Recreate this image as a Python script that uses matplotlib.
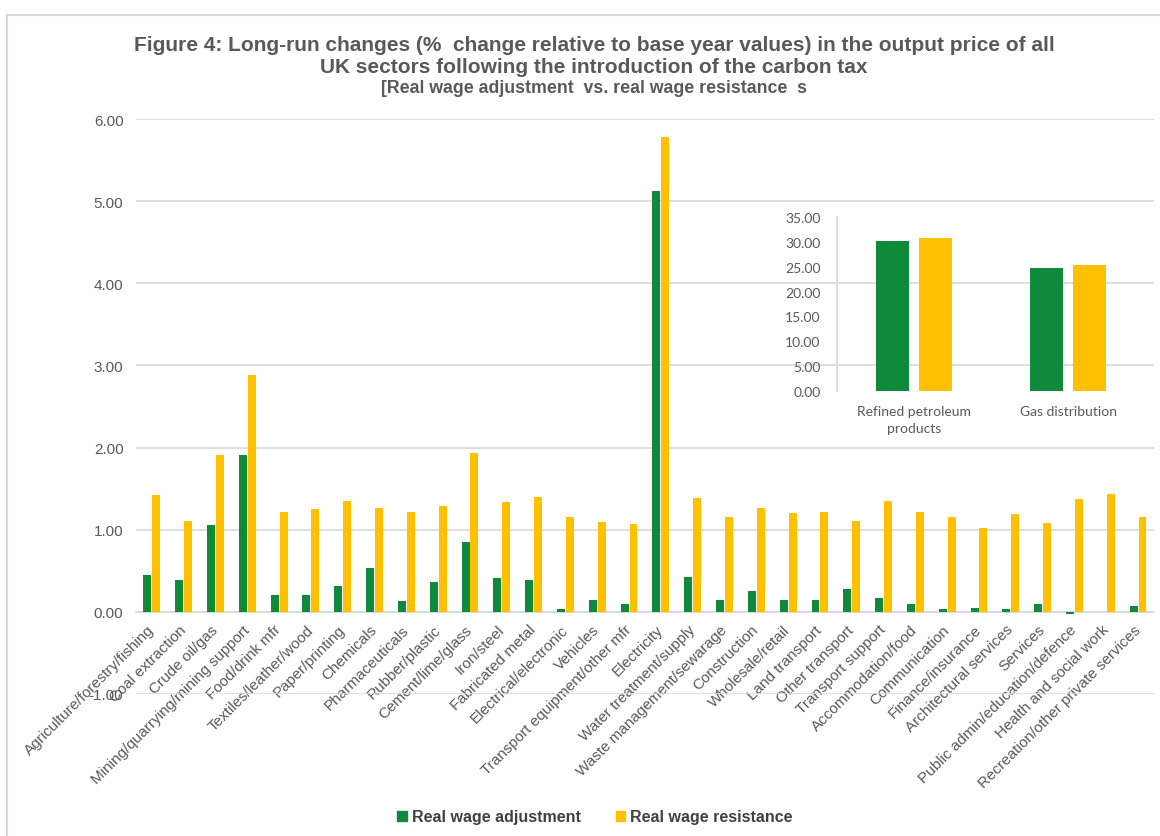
import matplotlib
matplotlib.use("Agg")
import matplotlib.pyplot as plt
from matplotlib.patches import Patch
from matplotlib.lines import Line2D
import numpy as np

sectors = [
    "Agriculture/forestry/fishing", "Coal extraction", "Crude oil/gas",
    "Mining/quarrying/mining support", "Food/drink mfr", "Textiles/leather/wood",
    "Paper/printing", "Chemicals", "Pharmaceuticals", "Rubber/plastic",
    "Cement/lime/glass", "Iron/steel", "Fabricated metal", "Electrical/electronic",
    "Vehicles", "Transport equipment/other mfr", "Electricity",
    "Water treatment/supply", "Waste management/sewarage", "Construction",
    "Wholesale/retail", "Land transport", "Other transport", "Transport support",
    "Accommodation/food", "Communication", "Finance/insurance",
    "Architectural services", "Services", "Public admin/education/defence",
    "Health and social work", "Recreation/other private services",
]
adjustment = [0.45, 0.39, 1.06, 1.91, 0.21, 0.20, 0.32, 0.53, 0.13, 0.36,
              0.85, 0.41, 0.39, 0.03, 0.14, 0.10, 5.12,
              0.43, 0.15, 0.25, 0.15, 0.14, 0.28, 0.17, 0.10, 0.04, 0.05,
              0.04, 0.10, -0.03, 0.00, 0.07]
resistance = [1.42, 1.11, 1.91, 2.88, 1.21, 1.25, 1.35, 1.27, 1.21, 1.29,
              1.93, 1.34, 1.40, 1.15, 1.09, 1.07, 5.78,
              1.38, 1.15, 1.27, 1.20, 1.22, 1.11, 1.35, 1.21, 1.15, 1.02,
              1.19, 1.08, 1.37, 1.43, 1.15]

inset_sectors = ["Refined petroleum\nproducts", "Gas distribution"]
inset_adjustment = [30.1, 24.7]
inset_resistance = [30.8, 25.3]

series_names = ["Real wage adjustment", "Real wage resistance"]
green = "#0E8A3A"
gold = "#FFC000"
grid_col = "#D9D9D9"
text_col = "#595959"

plt.rcParams["axes.unicode_minus"] = False

fig = plt.figure(figsize=(11.6, 8.37), dpi=100)

# main chart
ax = fig.add_axes([0.1172, 0.1697, 0.8776, 0.6869])
x = np.arange(len(sectors))
ax.bar(x - 0.14, adjustment, width=0.25, color=green, zorder=3)
ax.bar(x + 0.14, resistance, width=0.25, color=gold, zorder=3)
ax.set_xlim(-0.5, len(sectors) - 0.5)
ax.set_ylim(-1, 6)
ax.set_yticks(np.arange(-1, 7, 1))
ax.set_yticklabels([f"{v:.2f}" for v in np.arange(-1, 7, 1)])
ax.yaxis.grid(True, color=grid_col, linewidth=1.2, zorder=0)
for side in ["top", "right", "left"]:
    ax.spines[side].set_visible(False)
ax.spines["bottom"].set_position(("data", 0))
ax.spines["bottom"].set_color(grid_col)
ax.spines["bottom"].set_linewidth(1.2)
ax.set_xticks(x)
ax.set_xticklabels(sectors, rotation=45, ha="right", va="center",
                   rotation_mode="anchor", fontsize=11, color=text_col,
                   family="Liberation Sans")
ax.tick_params(axis="x", length=0, pad=11)
ax.tick_params(axis="y", length=0, pad=9, labelsize=11, labelcolor=text_col)
for lab in ax.get_yticklabels():
    lab.set_family("Liberation Sans")
ax.patch.set_alpha(0)

# inset chart
ins = fig.add_axes([0.7216, 0.5317, 0.2655, 0.2079])
xi = np.arange(len(inset_sectors))
ins.bar(xi - 0.14, inset_adjustment, width=0.214, color=green)
ins.bar(xi + 0.14, inset_resistance, width=0.214, color=gold)
ins.set_xlim(-0.5, 1.5)
ins.set_ylim(0, 35)
ins.set_yticks(np.arange(0, 36, 5))
ins.set_yticklabels([f"{v:.2f}" for v in np.arange(0, 36, 5)])
ins.set_xticks(xi)
ins.set_xticklabels(inset_sectors, fontsize=10, color=text_col, family="Lato",
                    linespacing=1.5)
ins.tick_params(axis="x", length=0, pad=10)
ins.tick_params(axis="y", length=0, pad=12, labelsize=10, labelcolor=text_col)
for lab in ins.get_yticklabels():
    lab.set_family("Lato")
for side in ["top", "right", "bottom"]:
    ins.spines[side].set_visible(False)
ins.spines["left"].set_color(grid_col)
ins.spines["left"].set_linewidth(1.2)
ins.patch.set_alpha(0)

# titles
title_font = "Liberation Sans"
fig.text(0.512, 0.946, "Figure 4: Long-run changes (%  change relative to base year values) in the output price of all",
         ha="center", va="center", fontsize=15, fontweight="bold", color=text_col, family=title_font)
fig.text(0.512, 0.919, "UK sectors following the introduction of the carbon tax",
         ha="center", va="center", fontsize=15, fontweight="bold", color=text_col, family=title_font)
fig.text(0.512, 0.894, "[Real wage adjustment  vs. real wage resistance  s",
         ha="center", va="center", fontsize=12.8, fontweight="bold", color=text_col, family=title_font)

# legend
handles = [Patch(color=green), Patch(color=gold)]
fig.legend(handles, series_names, loc="center", bbox_to_anchor=(0.513, 0.023),
           ncol=2, frameon=False, handlelength=0.6, handleheight=0.6,
           handletextpad=0.3, columnspacing=2.2,
           prop={"family": "Liberation Sans", "size": 11.5, "weight": "bold"},
           labelcolor="#404040")

# chart frame (top and left edges)
fig.add_artist(Line2D([7 / 1160, 1], [1 - 16 / 837, 1 - 16 / 837], color=grid_col, linewidth=1.5))
fig.add_artist(Line2D([7 / 1160, 7 / 1160], [0, 1 - 16 / 837], color=grid_col, linewidth=1.5))

fig.savefig("out.png", dpi=100, facecolor="white")
